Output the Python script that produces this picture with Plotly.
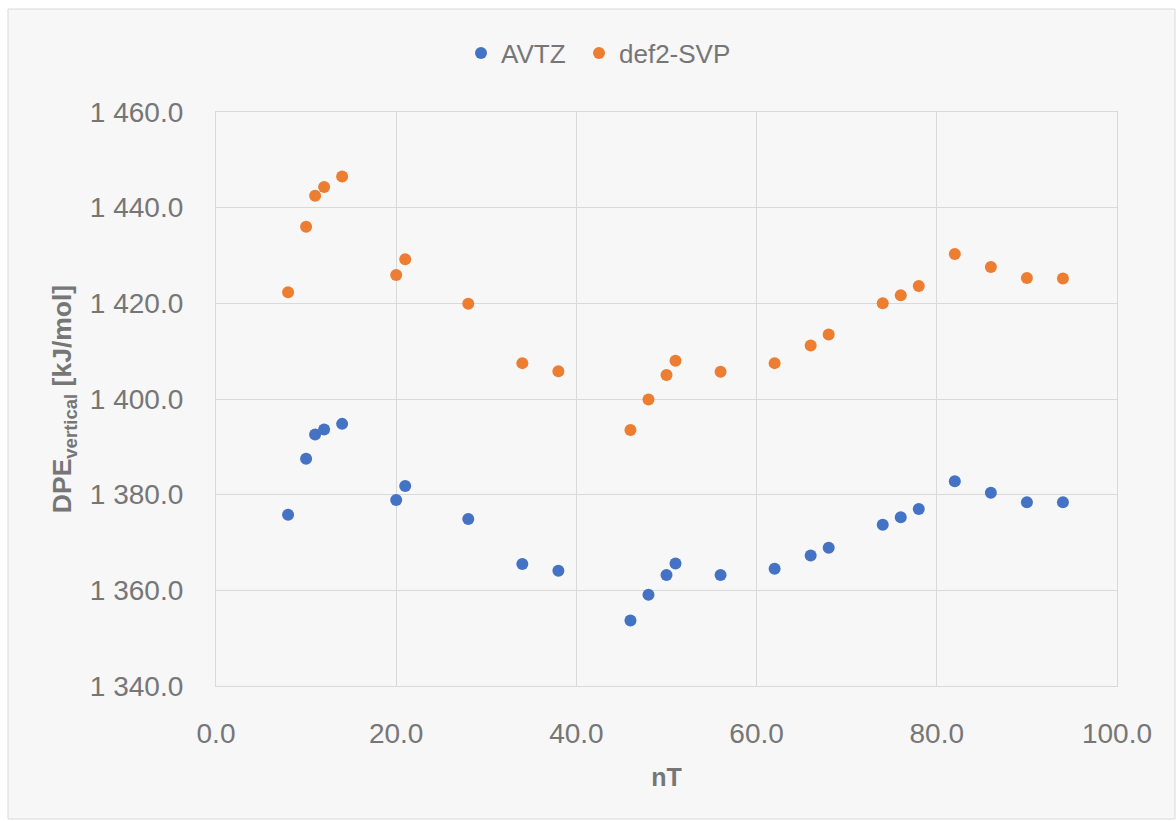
import plotly.graph_objects as go

# ---- data ----
nT = [8, 10, 11, 12, 14, 20, 21, 28, 34, 38, 46, 48, 50, 51, 56, 62, 66, 68, 74, 76, 78, 82, 86, 90, 94]
avtz = [1375.8, 1387.5, 1392.6, 1393.6, 1394.8, 1378.9, 1381.8, 1374.9, 1365.5, 1364.1,
        1353.7, 1359.1, 1363.2, 1365.6, 1363.2, 1364.5, 1367.3, 1368.9, 1373.7, 1375.3,
        1377.0, 1382.8, 1380.4, 1378.4, 1378.4]
def2svp = [1422.3, 1436.0, 1442.5, 1444.3, 1446.5, 1425.9, 1429.2, 1419.9, 1407.5, 1405.8,
           1393.5, 1399.9, 1405.0, 1408.0, 1405.7, 1407.5, 1411.2, 1413.5, 1420.0, 1421.7,
           1423.6, 1430.3, 1427.6, 1425.3, 1425.2]
series_names = ["AVTZ", "def2-SVP"]
series_colors = ["#4472C4", "#ED7D31"]
x_range = [0, 100]
y_range = [1340, 1460]
x_title = "nT"
y_title = "DPE<sub>vertical</sub> [kJ/mol]"

W, H = 1176, 821
L, R, T, B = 216, 59, 112, 135
pw, ph = W - L - R, H - T - B

text_color = "#767676"
grid_color = "#d9d9d9"
font_family = "Liberation Sans, Arial, sans-serif"

fig = go.Figure()
legend_ids = ["legend", "legend2"]
for name, ys, col, lg in zip(series_names, [avtz, def2svp], series_colors, legend_ids):
    fig.add_trace(go.Scatter(x=nT, y=ys, mode="markers", name=name, legend=lg,
                             marker=dict(color=col, size=12, line=dict(width=0))))

def px_x(p):
    return (p - L) / pw

def px_y(p):
    return (H - B - p) / ph

fig.add_shape(type="rect", xref="paper", yref="paper",
              x0=px_x(8), x1=px_x(1175), y0=px_y(819), y1=px_y(9),
              line=dict(color=grid_color, width=1), fillcolor="#f7f7f7", layer="below")

legend_common = dict(orientation="h", xref="container", yref="container",
                     y=1 - 53 / H, xanchor="left", yanchor="middle",
                     font=dict(size=26, color=text_color), bgcolor="rgba(0,0,0,0)")

fig.update_layout(
    width=W, height=H,
    margin=dict(l=L, r=R, t=T, b=B, autoexpand=False),
    paper_bgcolor="white",
    plot_bgcolor="#fcfcfc",
    separators=". ",
    font=dict(family=font_family, color=text_color, size=26),
    showlegend=True,
    legend=dict(x=461 / W, **legend_common),
    legend2=dict(x=579 / W, **legend_common),
    xaxis=dict(range=x_range, dtick=20, tickformat=".1f", showgrid=True,
               gridcolor=grid_color, gridwidth=1.3, zeroline=False,
               showline=True, mirror=True, linecolor=grid_color, linewidth=1.3,
               ticks="", ticklabelstandoff=22,
               tickfont=dict(size=28, color=text_color),
               title=dict(text=x_title, standoff=20,
                          font=dict(size=25, color=text_color, family=font_family, weight="bold"))),
    yaxis=dict(range=y_range, dtick=20, tickformat=",.1f", separatethousands=True,
               showgrid=True, gridcolor=grid_color, gridwidth=1.3, zeroline=False,
               showline=True, mirror=True, linecolor=grid_color, linewidth=1.3,
               ticks="", ticklabelstandoff=26,
               tickfont=dict(size=28, color=text_color),
               title=dict(text=y_title, standoff=10,
                          font=dict(size=26.5, color=text_color, family=font_family, weight="bold"))),
)

fig.write_html("out.html")
